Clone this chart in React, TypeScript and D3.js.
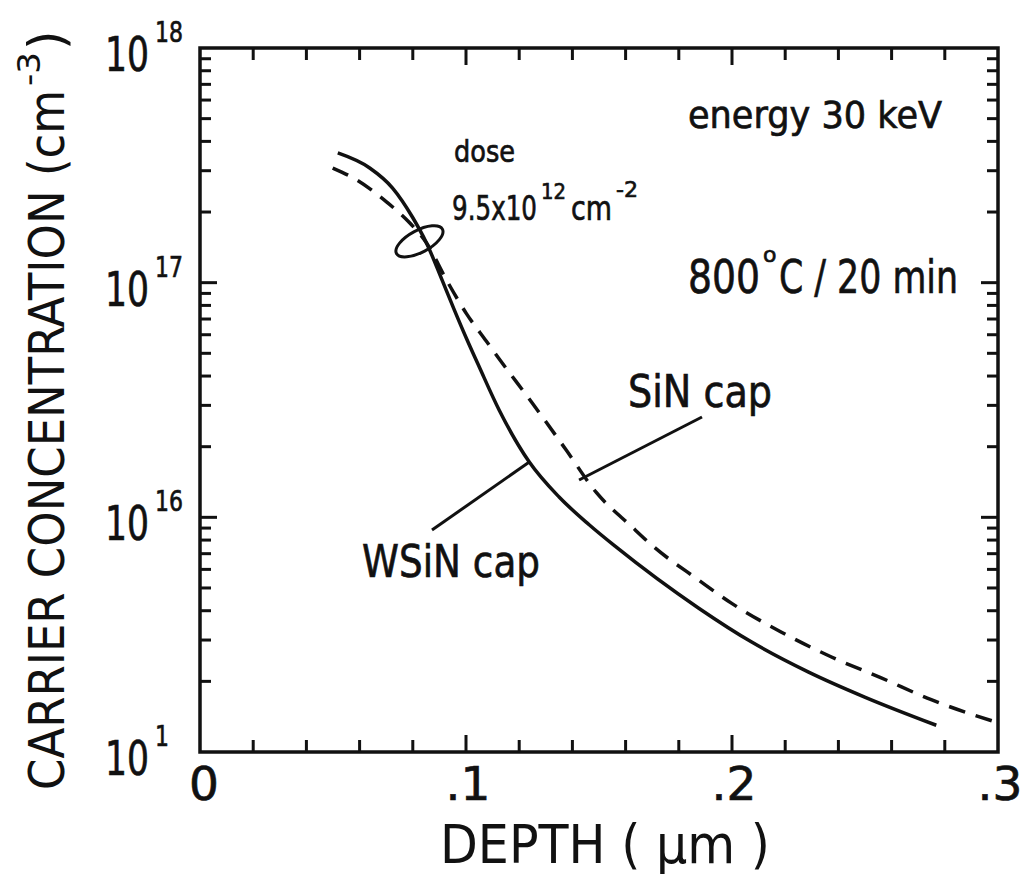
import * as d3 from "d3";

// depth in µm, carrier concentration in cm^-3
const wsinDepth = [0.0518, 0.0638, 0.0724, 0.0799, 0.0851, 0.0911, 0.0956, 0.1001, 0.105, 0.1125, 0.1238, 0.135, 0.1463, 0.1564, 0.1875, 0.2074, 0.2288, 0.2501, 0.2768];
const wsinConc = [3.57e17, 3.08e17, 2.53e17, 1.9e17, 1.48e17, 1.02e17, 7.66e16, 5.81e16, 4.37e16, 2.86e16, 1.72e16, 1.22e16, 9.3e15, 7.48e15, 4.1e15, 2.94e15, 2.19e15, 1.71e15, 1.3e15];

const sinDepth = [0.0499, 0.0589, 0.0701, 0.0788, 0.0851, 0.0926, 0.1001, 0.1076, 0.1125, 0.1249, 0.1376, 0.1489, 0.1624, 0.1699, 0.1875, 0.1999, 0.2186, 0.2374, 0.2561, 0.2749, 0.2993];
const sinConc = [3.08e17, 2.74e17, 2.21e17, 1.8e17, 1.48e17, 1.03e17, 7.4e16, 5.64e16, 4.73e16, 3.07e16, 1.94e16, 1.28e16, 9.1e15, 7.6e15, 5.4e15, 4.3e15, 3.24e15, 2.54e15, 2.07e15, 1.67e15, 1.34e15];

const xTickLabels = ["0", ".1", ".2", ".3"];
const xTickValues = [0, 0.1, 0.2, 0.3];
const yDecades = [1e18, 1e17, 1e16, 1e15];
const yDecadeExp = ["18", "17", "16", "1"];

const FONT = "'DejaVu Sans', 'Liberation Sans', sans-serif";
const SQ = "spacingAndGlyphs";

export default function App() {
  const W = 1031;
  const H = 879;
  const left = 200, right = 998, top = 48, bottom = 752;

  const x = d3.scaleLinear().domain([0, 0.3]).range([left, right]);
  const y = d3.scaleLog().domain([1e15, 1e18]).range([bottom, top]);

  const line = d3
    .line<[number, number]>()
    .x((d) => x(d[0]))
    .y((d) => y(d[1]))
    .curve(d3.curveMonotoneX);

  const wsin: [number, number][] = wsinDepth.map((d, i) => [d, wsinConc[i]]);
  const sin: [number, number][] = sinDepth.map((d, i) => [d, sinConc[i]]);

  const xMinor = d3.range(1, 15).map((i) => i * 0.02);
  const yMinor: number[] = [];
  for (let e = 15; e < 18; e++) for (let m = 2; m <= 9; m++) yMinor.push(m * Math.pow(10, e));

  const ink = "#111";
  const ecx = x(0.0825), ecy = y(1.5e17);
  // slightly heavier lettering, like the stencilled original
  const bold = { stroke: ink, strokeWidth: 0.7 };

  return (
    <svg width={W} height={H} style={{ position: "absolute", left: 0, top: 0, background: "#fff" }} fontFamily={FONT} fill={ink}>
      <rect x={0} y={0} width={W} height={H} fill="#fff" />
      {/* frame */}
      <rect x={left} y={top} width={right - left} height={bottom - top} fill="none" stroke={ink} strokeWidth={3.5} />

      {/* x ticks, bottom and top */}
      {xMinor.map((v) => {
        const major = Math.abs(v - 0.1) < 1e-9 || Math.abs(v - 0.2) < 1e-9;
        const len = major ? 17 : 12;
        return (
          <g key={"xt" + v}>
            <line x1={x(v)} x2={x(v)} y1={bottom} y2={bottom - len} stroke={ink} strokeWidth={3} />
            <line x1={x(v)} x2={x(v)} y1={top} y2={top + len} stroke={ink} strokeWidth={3} />
          </g>
        );
      })}

      {/* y ticks, left and right */}
      {yMinor.map((v) => (
        <g key={"ym" + v}>
          <line x1={left} x2={left + 11} y1={y(v)} y2={y(v)} stroke={ink} strokeWidth={3} />
          <line x1={right} x2={right - 11} y1={y(v)} y2={y(v)} stroke={ink} strokeWidth={3} />
        </g>
      ))}
      {yDecades.slice(1, 3).map((v) => (
        <g key={"yM" + v}>
          <line x1={left} x2={left + 17} y1={y(v)} y2={y(v)} stroke={ink} strokeWidth={3} />
          <line x1={right} x2={right - 17} y1={y(v)} y2={y(v)} stroke={ink} strokeWidth={3} />
        </g>
      ))}

      {/* x tick labels */}
      {xTickValues.map((v, i) => (
        <text key={"xl" + v} x={x(v) + (i === 0 ? 4 : 2)} y={800} fontSize={47} textAnchor="middle" {...bold}>
          {xTickLabels[i]}
        </text>
      ))}

      {/* y tick labels */}
      {yDecades.map((v, i) => (
        <text key={"yl" + v} fontSize={48} {...bold}>
          <tspan x={105} y={y(v) + 23} textLength={44} lengthAdjust={SQ}>10</tspan>
          <tspan x={155} y={y(v) - 6} fontSize={28} textLength={yDecadeExp[i].length * 14} lengthAdjust={SQ}>{yDecadeExp[i]}</tspan>
        </text>
      ))}

      {/* axis titles */}
      <g transform="translate(64,0) rotate(-90)">
        <text fontSize={50}>
          <tspan x={-790} y={0} textLength={700} lengthAdjust={SQ}>CARRIER CONCENTRATION (cm</tspan>
          <tspan x={-86} y={-24} fontSize={32} textLength={34} lengthAdjust={SQ}>-3</tspan>
          <tspan x={-50} y={0}>)</tspan>
        </text>
      </g>
      <text x={440} y={863} fontSize={54} textLength={330} lengthAdjust={SQ}>DEPTH ( µm )</text>

      {/* curves */}
      <path d={line(sin) ?? ""} fill="none" stroke={ink} strokeWidth={3.5} strokeDasharray="17,11" />
      <path d={line(wsin) ?? ""} fill="none" stroke={ink} strokeWidth={3.5} />

      {/* annotations */}
      <ellipse cx={ecx} cy={ecy} rx={26} ry={11} fill="none" stroke={ink} strokeWidth={3} transform={`rotate(-28 ${ecx} ${ecy})`} />
      <text x={454} y={162} fontSize={30} textLength={61} lengthAdjust={SQ} {...bold}>dose</text>
      <text fontSize={33} {...bold}>
        <tspan x={452} y={220} textLength={85} lengthAdjust={SQ}>9.5x10</tspan>
        <tspan x={541} y={199} fontSize={22} textLength={25} lengthAdjust={SQ}>12</tspan>
        <tspan x={571} y={220} textLength={41} lengthAdjust={SQ}>cm</tspan>
        <tspan x={616} y={197} fontSize={22} textLength={22} lengthAdjust={SQ}>-2</tspan>
      </text>

      <text x={688} y={128} fontSize={38} textLength={254} lengthAdjust={SQ} {...bold}>energy 30 keV</text>

      <text fontSize={47} {...bold}>
        <tspan x={688} y={293} textLength={72} lengthAdjust={SQ}>800</tspan>
        <tspan x={763} y={262} fontSize={22}>o</tspan>
        <tspan x={779} y={293} textLength={179} lengthAdjust={SQ}>C / 20 min</tspan>
      </text>

      <line x1={x(0.1238)} y1={y(1.72e16)} x2={432} y2={530} stroke={ink} strokeWidth={3} />
      <text x={362} y={577} fontSize={44} textLength={178} lengthAdjust={SQ} {...bold}>WSiN cap</text>
      <line x1={x(0.1425)} y1={y(1.5e16) + 4} x2={702} y2={417} stroke={ink} strokeWidth={3} />
      <text x={628} y={407} fontSize={44} textLength={144} lengthAdjust={SQ} {...bold}>SiN cap</text>
    </svg>
  );
}
